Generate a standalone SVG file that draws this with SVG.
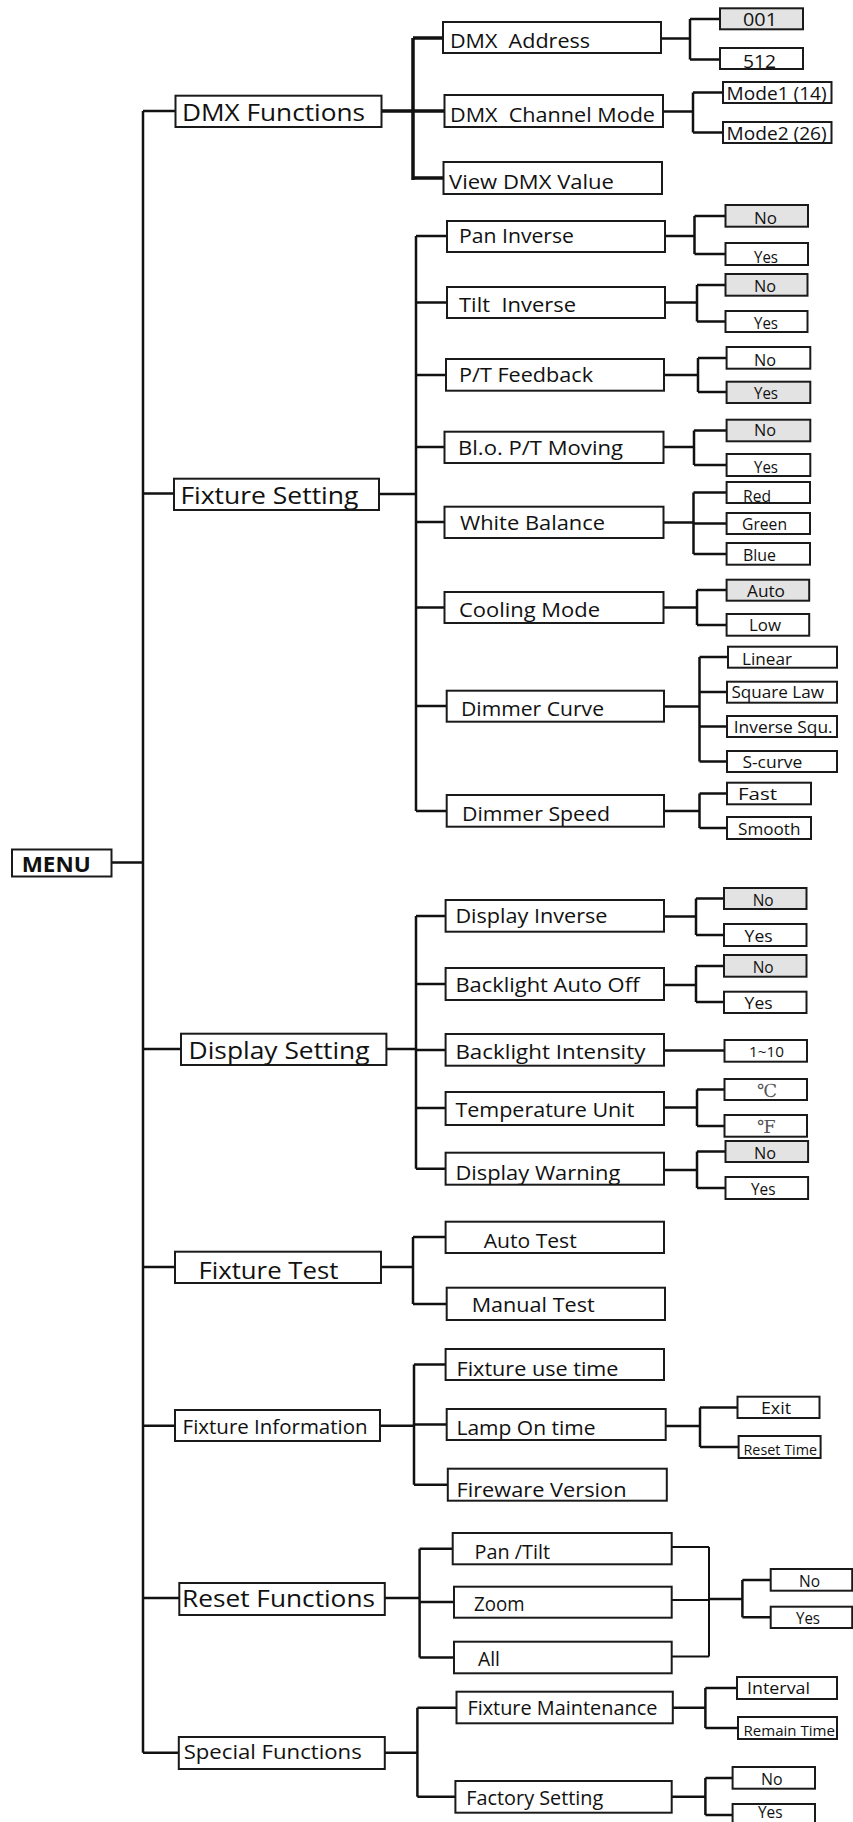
<svg xmlns="http://www.w3.org/2000/svg" width="853" height="1822" viewBox="0 0 853 1822">
<style>
rect{fill:#fff;stroke:#1a1a1a;stroke-width:2}
rect.g{fill:#e3e3e3}
.c path{fill:none;stroke:#111;stroke-width:2.5}
text{font-family:"Open Sans","Noto Sans",sans-serif;fill:#111;white-space:pre}
.t0{font-size:22px;font-weight:bold}
.t1{font-size:24px}
.t1s{font-size:20.5px}
.t2{font-size:20px}
.t3{font-size:16.5px}
.t3s{font-size:14px}
.t3l{font-size:18px}
.deg{font-family:"DejaVu Serif","Noto Sans CJK SC",serif;font-size:18px;fill:#555}
</style>
<g id="connectors" class="c">
<path d="M111.5 862.5H143M143 111V1752.7"/>
<path d="M143 111H175.5M143 493.5H174M143 1049H181M143 1267H175M143 1425.7H175M143 1598H179.3M143 1752.7H178.8"/>
<path d="M381.5 111H413M413 38V180M413 38H443M413 111H444.5M413 178H443.5" style="stroke-width:3.5"/>
<path d="M379 494H416M416 236V811M416 236H447M416 302.5H447M416 375H446M416 447H444.5M416 522H444.5M416 607.5H444.5M416 706H446.7M416 811H446.7"/>
<path d="M386.4 1049H416M416 916V1168.7M416 916H445.6M416 984H445.6M416 1050H445.6M416 1108H445.6M416 1168.7H445.6"/>
<path d="M381 1267H413M413 1237V1304M413 1237H445.6M413 1304H446.7"/>
<path d="M380 1425.7H414M414 1364.5V1484.7M414 1364.5H445.6M414 1424.5H446.7M414 1484.7H447.8"/>
<path d="M384.8 1598H419.6M419.6 1548.7V1657.5M419.6 1548.7H452.7M419.6 1602H454M419.6 1657.5H454"/>
<path d="M384.8 1752.7H417.4M417.4 1707.7V1796.7M417.4 1707.7H456.5M417.4 1796.7H455.4"/>
<path d="M661 38.5H690M690 19V59.5M690 19H720M690 59.5H720"/>
<path d="M663 111.5H693M693 92.5V132.5M693 92.5H723M693 132.5H723"/>
<path d="M665 236H694.5M694.5 216V254M694.5 216H725.5M694.5 254H725.5"/>
<path d="M665 302.5H697M697 285V321.5M697 285H725.5M697 321.5H725.5"/>
<path d="M664 375H698M698 358V392M698 358H726.6M698 392H726.6"/>
<path d="M663.5 447H694M694 430.5V465M694 430.5H726.6M694 465H726.6"/>
<path d="M663.5 522.5H693.5M693.5 492.5V554M693.5 492.5H726.6M693.5 523.5H726.6M693.5 554H726.6"/>
<path d="M663.5 607.5H697M697 590V625M697 590H726.6M697 625H726.6"/>
<path d="M664 706.5H699.5M699.5 657V761.5M699.5 657H728M699.5 692H727M699.5 726.5H727M699.5 761.5H727"/>
<path d="M664 811H699.5M699.5 793.5V828M699.5 793.5H727M699.5 828H727"/>
<path d="M664 916.5H696M696 898.5V935M696 898.5H724M696 935H724"/>
<path d="M664 985H696M696 966V1002M696 966H724M696 1002H724"/>
<path d="M664 1050.5H724.5"/>
<path d="M664 1107.5H697M697 1089.5V1126M697 1089.5H724.5M697 1126H724.5"/>
<path d="M664 1170H697M697 1151.5V1188M697 1151.5H725.5M697 1188H725.5"/>
<path d="M665.7 1426H700M700 1407.5V1447M700 1407.5H737.5M700 1447H738.6"/>
<path d="M671.7 1547H709M671.7 1600H709M671.7 1656.5H709M709 1547V1656.5" style="stroke-width:2"/>
<path d="M709 1599H742.4M742.4 1580V1617.3M742.4 1580H770.7M742.4 1617.3H770.7"/>
<path d="M672.8 1707.7H705.4M705.4 1688V1728M705.4 1688H737M705.4 1728H738"/>
<path d="M671.7 1796.7H705.4M705.4 1778V1815M705.4 1778H732.6M705.4 1815H732.6"/>
</g>
<g id="menu"><rect x="12" y="849.5" width="99.5" height="27"/><text class="t0" x="21.7" y="871.7" textLength="69" lengthAdjust="spacingAndGlyphs">MENU</text></g>
<g id="dmx-functions"><rect x="175.5" y="95.7" width="206" height="31.3"/><text class="t1" x="182" y="120.7" textLength="183" lengthAdjust="spacingAndGlyphs">DMX Functions</text></g>
<g id="fixture-setting"><rect x="174" y="478.7" width="205" height="31.3"/><text class="t1" x="180.4" y="504" textLength="178" lengthAdjust="spacingAndGlyphs">Fixture Setting</text></g>
<g id="display-setting"><rect x="181" y="1033.7" width="205.4" height="31.3"/><text class="t1" x="188.6" y="1059.3" textLength="181" lengthAdjust="spacingAndGlyphs">Display Setting</text></g>
<g id="fixture-test"><rect x="175" y="1251.7" width="206" height="31.3"/><text class="t1" x="198.4" y="1279" textLength="140" lengthAdjust="spacingAndGlyphs">Fixture Test</text></g>
<g id="fixture-information"><rect x="175" y="1410" width="205" height="31"/><text class="t1s" x="182.6" y="1434.3" textLength="185" lengthAdjust="spacingAndGlyphs">Fixture Information</text></g>
<g id="reset-functions"><rect x="179.3" y="1583" width="205.5" height="32"/><text class="t1" x="182" y="1606.7" textLength="193" lengthAdjust="spacingAndGlyphs">Reset Functions</text></g>
<g id="special-functions"><rect x="178.8" y="1737" width="206" height="32"/><text class="t1s" x="183.7" y="1759" textLength="178" lengthAdjust="spacingAndGlyphs">Special Functions</text></g>

<g id="dmx-address"><rect x="443" y="22" width="218" height="31"/><text class="t2" x="450" y="48.3" textLength="140" lengthAdjust="spacingAndGlyphs" xml:space="preserve">DMX  Address</text></g>
<g id="dmx-channel-mode"><rect x="444.5" y="95" width="218.5" height="32"/><text class="t2" x="450" y="121.7" textLength="205" lengthAdjust="spacingAndGlyphs" xml:space="preserve">DMX  Channel Mode</text></g>
<g id="view-dmx-value"><rect x="443.5" y="162" width="218.5" height="32"/><text class="t2" x="449" y="189.3" textLength="165" lengthAdjust="spacingAndGlyphs">View DMX Value</text></g>
<g id="pan-inverse"><rect x="447" y="221" width="218" height="31"/><text class="t2" x="459" y="243.3" textLength="115" lengthAdjust="spacingAndGlyphs">Pan Inverse</text></g>
<g id="tilt-inverse"><rect x="447" y="287" width="218" height="31"/><text class="t2" x="459" y="311.7" textLength="117" lengthAdjust="spacingAndGlyphs" xml:space="preserve">Tilt  Inverse</text></g>
<g id="pt-feedback"><rect x="446" y="359" width="218" height="31.7"/><text class="t2" x="459" y="381.7" textLength="134" lengthAdjust="spacingAndGlyphs">P/T Feedback</text></g>
<g id="blo-pt-moving"><rect x="444.5" y="431.7" width="219" height="31.3"/><text class="t2" x="458" y="455" textLength="165" lengthAdjust="spacingAndGlyphs">Bl.o. P/T Moving</text></g>
<g id="white-balance"><rect x="444.5" y="506.7" width="219" height="31.3"/><text class="t2" x="460" y="530" textLength="145" lengthAdjust="spacingAndGlyphs">White Balance</text></g>
<g id="cooling-mode"><rect x="444.5" y="592" width="219" height="31"/><text class="t2" x="459" y="617" textLength="141" lengthAdjust="spacingAndGlyphs">Cooling Mode</text></g>
<g id="dimmer-curve"><rect x="446.7" y="690.7" width="217.3" height="31"/><text class="t2" x="461" y="716" textLength="143" lengthAdjust="spacingAndGlyphs">Dimmer Curve</text></g>
<g id="dimmer-speed"><rect x="446.7" y="795" width="217.3" height="31.7"/><text class="t2" x="462" y="820.7" textLength="148" lengthAdjust="spacingAndGlyphs">Dimmer Speed</text></g>
<g id="display-inverse"><rect x="445.6" y="900" width="218.4" height="31.7"/><text class="t2" x="455.4" y="923.3" textLength="152" lengthAdjust="spacingAndGlyphs">Display Inverse</text></g>
<g id="backlight-auto-off"><rect x="445.6" y="968" width="218.4" height="32"/><text class="t2" x="455.4" y="991.5" textLength="184" lengthAdjust="spacingAndGlyphs">Backlight Auto Off</text></g>
<g id="backlight-intensity"><rect x="445.6" y="1034" width="218.4" height="31.7"/><text class="t2" x="455.4" y="1059.3" textLength="190" lengthAdjust="spacingAndGlyphs">Backlight Intensity</text></g>
<g id="temperature-unit"><rect x="445.6" y="1092" width="218.4" height="33"/><text class="t2" x="455.4" y="1116.7" textLength="179" lengthAdjust="spacingAndGlyphs">Temperature Unit</text></g>
<g id="display-warning"><rect x="445.6" y="1152.7" width="218.4" height="32"/><text class="t2" x="455.4" y="1180" textLength="165" lengthAdjust="spacingAndGlyphs">Display Warning</text></g>
<g id="auto-test"><rect x="445.6" y="1221.7" width="218.4" height="31.3"/><text class="t2" x="483.7" y="1247.7" textLength="93" lengthAdjust="spacingAndGlyphs">Auto Test</text></g>
<g id="manual-test"><rect x="446.7" y="1287.7" width="218.3" height="32.3"/><text class="t2" x="471.7" y="1312.3" textLength="123" lengthAdjust="spacingAndGlyphs">Manual Test</text></g>
<g id="fixture-use-time"><rect x="445.6" y="1349" width="218.4" height="31"/><text class="t2" x="456.5" y="1375.7" textLength="162" lengthAdjust="spacingAndGlyphs">Fixture use time</text></g>
<g id="lamp-on-time"><rect x="446.7" y="1409" width="219" height="31"/><text class="t2" x="456.5" y="1435" textLength="139" lengthAdjust="spacingAndGlyphs">Lamp On time</text></g>
<g id="fireware-version"><rect x="447.8" y="1468.7" width="219" height="32"/><text class="t2" x="456.5" y="1496.7" textLength="170" lengthAdjust="spacingAndGlyphs">Fireware Version</text></g>
<g id="pan-tilt"><rect x="452.7" y="1533" width="219" height="31.3"/><text class="t2" x="474.5" y="1559.3" textLength="75.5" lengthAdjust="spacingAndGlyphs">Pan /Tilt</text></g>
<g id="zoom"><rect x="454" y="1586.7" width="217.7" height="31"/><text class="t2" x="474" y="1610.7" textLength="50.5" lengthAdjust="spacingAndGlyphs">Zoom</text></g>
<g id="all"><rect x="454" y="1641.7" width="217.7" height="31.6"/><text class="t2" x="478" y="1666" textLength="22" lengthAdjust="spacingAndGlyphs">All</text></g>
<g id="fixture-maintenance"><rect x="456.5" y="1691.7" width="216.3" height="31.6"/><text class="t2" x="467.4" y="1715" textLength="190" lengthAdjust="spacingAndGlyphs">Fixture Maintenance</text></g>
<g id="factory-setting"><rect x="455.4" y="1781" width="216.3" height="31.7"/><text class="t2" x="466.3" y="1805" textLength="137" lengthAdjust="spacingAndGlyphs">Factory Setting</text></g>

<g id="addr-001"><rect class="g" x="720" y="8.3" width="83" height="21"/><text class="t3l" x="743" y="26" textLength="34" lengthAdjust="spacingAndGlyphs">001</text></g>
<g id="addr-512"><rect x="720" y="48" width="83" height="21"/><text class="t3l" x="743" y="67.5" textLength="33" lengthAdjust="spacingAndGlyphs">512</text></g>
<g id="mode1"><rect x="723" y="82" width="108.5" height="21"/><text class="t3l" x="726.6" y="100" textLength="100" lengthAdjust="spacingAndGlyphs">Mode1 (14)</text></g>
<g id="mode2"><rect x="723" y="122" width="108.5" height="21"/><text class="t3l" x="726.6" y="140" textLength="100" lengthAdjust="spacingAndGlyphs">Mode2 (26)</text></g>
<g id="pan-no"><rect class="g" x="725.5" y="205" width="82.5" height="21.7"/><text class="t3" x="754" y="224.3" textLength="23" lengthAdjust="spacingAndGlyphs">No</text></g>
<g id="pan-yes"><rect x="725.5" y="243" width="82.5" height="22"/><text class="t3" x="754" y="262.7" textLength="24" lengthAdjust="spacingAndGlyphs">Yes</text></g>
<g id="tilt-no"><rect class="g" x="725.5" y="274" width="82" height="21.7"/><text class="t3" x="754" y="292.3" textLength="22" lengthAdjust="spacingAndGlyphs">No</text></g>
<g id="tilt-yes"><rect x="725.5" y="311" width="82" height="21"/><text class="t3" x="754" y="328.5" textLength="24" lengthAdjust="spacingAndGlyphs">Yes</text></g>
<g id="pt-no"><rect x="726.6" y="347" width="83.7" height="21.7"/><text class="t3" x="754" y="365.7" textLength="22" lengthAdjust="spacingAndGlyphs">No</text></g>
<g id="pt-yes"><rect class="g" x="726.6" y="381.7" width="83.7" height="21.3"/><text class="t3" x="754" y="399.3" textLength="24" lengthAdjust="spacingAndGlyphs">Yes</text></g>
<g id="blo-no"><rect class="g" x="726.6" y="419.7" width="83.7" height="21.6"/><text class="t3" x="754" y="436" textLength="22" lengthAdjust="spacingAndGlyphs">No</text></g>
<g id="blo-yes"><rect x="726.6" y="454" width="83.7" height="22"/><text class="t3" x="754" y="473.3" textLength="24" lengthAdjust="spacingAndGlyphs">Yes</text></g>
<g id="wb-red"><rect x="726.6" y="482" width="83.4" height="21"/><text class="t3" x="743" y="501.5" textLength="28" lengthAdjust="spacingAndGlyphs">Red</text></g>
<g id="wb-green"><rect x="726.6" y="513" width="83.4" height="21"/><text class="t3" x="742" y="530" textLength="45" lengthAdjust="spacingAndGlyphs">Green</text></g>
<g id="wb-blue"><rect x="726.6" y="543" width="83.4" height="21.7"/><text class="t3" x="743" y="561" textLength="33" lengthAdjust="spacingAndGlyphs">Blue</text></g>
<g id="cool-auto"><rect class="g" x="726.6" y="579.7" width="82.6" height="21"/><text class="t3" x="747" y="596.7" textLength="38" lengthAdjust="spacingAndGlyphs">Auto</text></g>
<g id="cool-low"><rect x="726.6" y="614" width="82.6" height="21.7"/><text class="t3" x="749" y="631" textLength="32" lengthAdjust="spacingAndGlyphs">Low</text></g>
<g id="dc-linear"><rect x="728" y="646.7" width="109" height="21"/><text class="t3" x="742" y="665" textLength="50" lengthAdjust="spacingAndGlyphs">Linear</text></g>
<g id="dc-square"><rect x="727" y="681.7" width="110" height="21"/><text class="t3" x="731.5" y="698.3" textLength="92.5" lengthAdjust="spacingAndGlyphs">Square Law</text></g>
<g id="dc-inverse"><rect x="727" y="716" width="110" height="21"/><text class="t3" x="733.7" y="733.3" textLength="99" lengthAdjust="spacingAndGlyphs">Inverse Squ.</text></g>
<g id="dc-scurve"><rect x="727" y="751" width="110" height="21"/><text class="t3" x="742.4" y="768.3" textLength="60" lengthAdjust="spacingAndGlyphs">S-curve</text></g>
<g id="ds-fast"><rect x="727" y="782.7" width="84" height="21.6"/><text class="t3" x="738" y="800.3" textLength="39" lengthAdjust="spacingAndGlyphs">Fast</text></g>
<g id="ds-smooth"><rect x="727" y="817" width="84" height="22"/><text class="t3" x="738" y="835" textLength="62.5" lengthAdjust="spacingAndGlyphs">Smooth</text></g>
<g id="di-no"><rect class="g" x="724" y="888" width="82.5" height="21"/><text class="t3" x="752.7" y="905.7" textLength="21" lengthAdjust="spacingAndGlyphs">No</text></g>
<g id="di-yes"><rect x="724" y="924" width="82.5" height="22"/><text class="t3" x="744.6" y="941.7" textLength="28" lengthAdjust="spacingAndGlyphs">Yes</text></g>
<g id="bao-no"><rect class="g" x="724" y="955" width="82.5" height="21.7"/><text class="t3" x="752.7" y="973.3" textLength="21" lengthAdjust="spacingAndGlyphs">No</text></g>
<g id="bao-yes"><rect x="724" y="991.7" width="82.5" height="21.3"/><text class="t3" x="744.6" y="1009.3" textLength="28" lengthAdjust="spacingAndGlyphs">Yes</text></g>
<g id="bi-range"><rect x="724.5" y="1040" width="82.5" height="21.7"/><text class="t3s" x="749" y="1057" textLength="35" lengthAdjust="spacingAndGlyphs">1~10</text></g>
<g id="tu-c"><rect x="724.5" y="1079" width="82.5" height="21"/><text class="deg" x="757" y="1097">℃</text></g>
<g id="tu-f"><rect x="724.5" y="1115" width="82.5" height="21.7"/><text class="deg" x="757" y="1133.3">℉</text></g>
<g id="dw-no"><rect class="g" x="725.5" y="1141" width="82.6" height="21"/><text class="t3" x="754" y="1159" textLength="22" lengthAdjust="spacingAndGlyphs">No</text></g>
<g id="dw-yes"><rect x="725.5" y="1177" width="82.6" height="22"/><text class="t3" x="751" y="1195" textLength="24.5" lengthAdjust="spacingAndGlyphs">Yes</text></g>
<g id="lamp-exit"><rect x="737.5" y="1396.7" width="82" height="21.3"/><text class="t3" x="761" y="1414" textLength="30" lengthAdjust="spacingAndGlyphs">Exit</text></g>
<g id="lamp-reset"><rect x="738.6" y="1436" width="82" height="22"/><text class="t3s" x="743.5" y="1455" textLength="73.5" lengthAdjust="spacingAndGlyphs">Reset Time</text></g>
<g id="reset-no"><rect x="770.7" y="1569" width="81.5" height="21.7"/><text class="t3" x="799" y="1587.3" textLength="21" lengthAdjust="spacingAndGlyphs">No</text></g>
<g id="reset-yes"><rect x="770.7" y="1606.7" width="81.5" height="21.3"/><text class="t3" x="796" y="1624" textLength="24" lengthAdjust="spacingAndGlyphs">Yes</text></g>
<g id="fm-interval"><rect x="737" y="1677" width="100" height="22"/><text class="t3" x="747" y="1694" textLength="63" lengthAdjust="spacingAndGlyphs">Interval</text></g>
<g id="fm-remain"><rect x="738" y="1717" width="99" height="22"/><text class="t3s" x="743.5" y="1736" textLength="91.5" lengthAdjust="spacingAndGlyphs">Remain Time</text></g>
<g id="fs-no"><rect x="732.6" y="1767" width="82.4" height="21.7"/><text class="t3" x="761" y="1785" textLength="21.6" lengthAdjust="spacingAndGlyphs">No</text></g>
<g id="fs-yes"><rect x="732.6" y="1804" width="82.4" height="22"/><text class="t3" x="758" y="1818" textLength="24.6" lengthAdjust="spacingAndGlyphs">Yes</text></g>
</svg>
